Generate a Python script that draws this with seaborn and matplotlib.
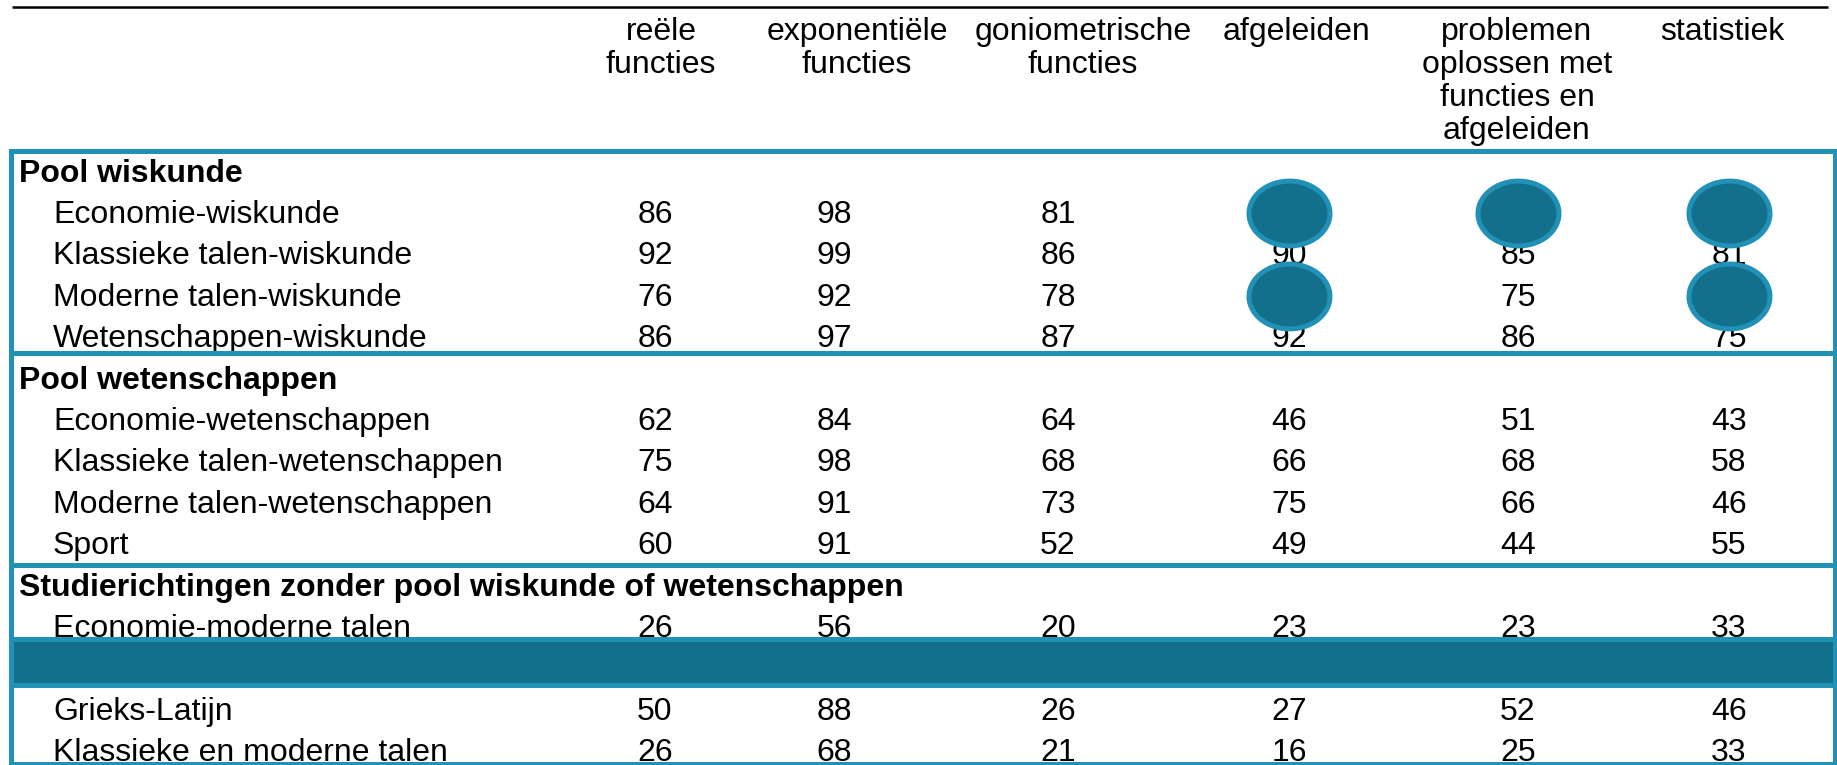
import matplotlib
matplotlib.use("Agg")
import matplotlib.pyplot as plt
import numpy as np
import pandas as pd
import seaborn as sns
from matplotlib.patches import Rectangle
from matplotlib.path import Path


# --- data -------------------------------------------------------------------
column_headers = [
    ["reële", "functies"],
    ["exponentiële", "functies"],
    ["goniometrische", "functies"],
    ["afgeleiden"],
    ["problemen", "oplossen met", "functies en", "afgeleiden"],
    ["statistiek"],
]

group_names = [
    "Pool wiskunde",
    "Pool wetenschappen",
    "Studierichtingen zonder pool wiskunde of wetenschappen",
]

wiskunde_rows = ["Economie-wiskunde", "Klassieke talen-wiskunde",
                 "Moderne talen-wiskunde", "Wetenschappen-wiskunde"]
wiskunde_values = [
    [86, 98, 81, None, None, None],
    [92, 99, 86, 90, 85, 81],
    [76, 92, 78, None, 75, None],
    [86, 97, 87, 92, 86, 75],
]

wetenschappen_rows = ["Economie-wetenschappen", "Klassieke talen-wetenschappen",
                      "Moderne talen-wetenschappen", "Sport"]
wetenschappen_values = [
    [62, 84, 64, 46, 51, 43],
    [75, 98, 68, 66, 68, 58],
    [64, 91, 73, 75, 66, 46],
    [60, 91, 52, 49, 44, 55],
]

# the second row of this group is hidden behind a band in the original
overige_rows = ["Economie-moderne talen", None, "Grieks-Latijn",
                "Klassieke en moderne talen"]
overige_values = [
    [26, 56, 20, 23, 23, 33],
    [None] * 6,
    [50, 88, 26, 27, 52, 46],
    [26, 68, 21, 16, 25, 33],
]

# cells covered by a dot: (row label, column index)
hidden_cells = [
    ("Economie-wiskunde", 3), ("Economie-wiskunde", 4), ("Economie-wiskunde", 5),
    ("Moderne talen-wiskunde", 3), ("Moderne talen-wiskunde", 5),
]

# --- layout (pixels) --------------------------------------------------------
W, H = 1837, 765
COL_X = [655, 834, 1058, 1289, 1518, 1729]
HEADER_X = [661, 857, 1083, 1297, 1517, 1722]
ROW_Y0, ROW_STEP = 181.6, 41.4
HEADER_Y0, HEADER_STEP = 40, 33
GROUP_X, ITEM_X = 19, 53
LIGHT = "#2291b6"
DARK = "#13708c"
FONT = 23


def row_y(i):
    return ROW_Y0 + ROW_STEP * i


sns.set_theme(style="white")
plt.rcParams["font.family"] = ["Liberation Sans", "DejaVu Sans"]
plt.rcParams["text.color"] = "black"

fig = plt.figure(figsize=(W / 100, H / 100), dpi=100)
ax = fig.add_axes([0, 0, 1, 1])
ax.set_xlim(0, W)
ax.set_ylim(H, 0)
ax.axis("off")

# header
ax.plot([12, 1828], [7, 7], color="black", lw=1.8, solid_capstyle="butt")
for x, lines in zip(HEADER_X, column_headers):
    for j, line in enumerate(lines):
        ax.text(x, HEADER_Y0 + HEADER_STEP * j, line, ha="center", va="baseline",
                fontsize=FONT, color="black", zorder=1)

# body
groups = [
    (group_names[0], wiskunde_rows, wiskunde_values),
    (group_names[1], wetenschappen_rows, wetenschappen_values),
    (group_names[2], overige_rows, overige_values),
]
row_pos = {}
i = 0
for name, labels, values in groups:
    ax.text(GROUP_X, row_y(i), name, ha="left", va="baseline",
            fontsize=FONT, fontweight="bold", color="black", zorder=1)
    i += 1
    for label, vals in zip(labels, values):
        if label is not None:
            row_pos[label] = i
            ax.text(ITEM_X, row_y(i), label, ha="left", va="baseline",
                    fontsize=FONT, color="black", zorder=1)
        for x, v in zip(COL_X, vals):
            if v is not None:
                ax.text(x, row_y(i), str(v), ha="center", va="baseline",
                        fontsize=FONT, color="black", zorder=1)
        i += 1

# group boxes
box_edges = [151, 352.5, 564.5, 764]
for top, bottom in zip(box_edges[:-1], box_edges[1:]):
    ax.add_patch(Rectangle((10.5, top), 1835 - 10.5, bottom - top, fill=False,
                           edgecolor=LIGHT, lw=3.6, zorder=3))

# band over the hidden row
band_row = row_pos["Economie-moderne talen"] + 1
band_top = row_y(band_row) - 39
ax.add_patch(Rectangle((10.5, band_top), 1835 - 10.5, 46, facecolor=DARK,
                       edgecolor=LIGHT, lw=3.6, zorder=4))

# dots over hidden cells
theta = np.linspace(0, 2 * np.pi, 120)
ellipse = Path(np.column_stack([np.cos(theta), 0.80 * np.sin(theta)]))
dots = pd.DataFrame(
    {
        "x": [COL_X[c] for _, c in hidden_cells],
        "y": [row_y(row_pos[r]) - 10 for r, _ in hidden_cells],
    }
)
sns.scatterplot(data=dots, x="x", y="y", marker=ellipse, s=(81 * 0.72) ** 2,
                color=DARK, edgecolor=LIGHT, linewidth=3.6, legend=False,
                ax=ax, zorder=5)
ax.set_xlabel("")
ax.set_ylabel("")

fig.savefig("out.png", dpi=100)
